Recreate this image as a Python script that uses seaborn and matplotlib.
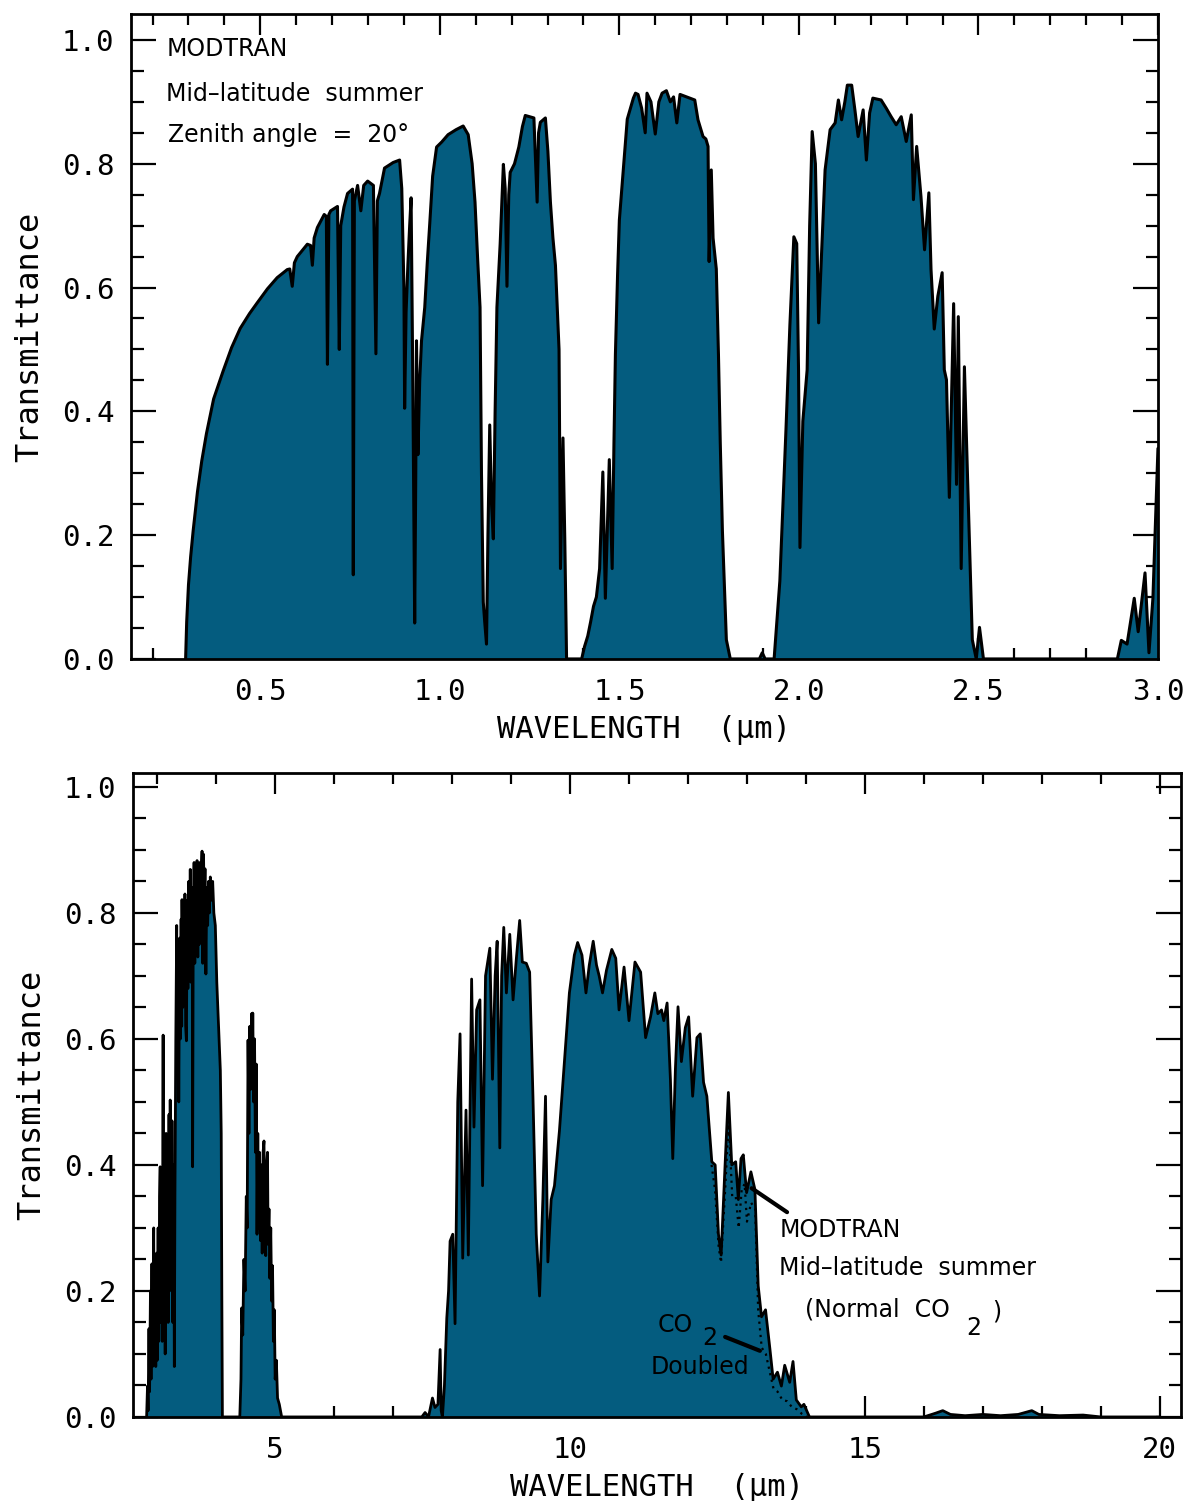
import matplotlib
matplotlib.use("Agg")
import matplotlib.pyplot as plt
import pandas as pd
import seaborn as sns
from matplotlib.ticker import MultipleLocator, FormatStrFormatter

# ---------------- data ----------------
# top panel: 0.2 - 3.0 um
wl_vis = [0.2920, 0.2950, 0.3000, 0.3060, 0.3130, 0.3250, 0.3370, 0.3500, 0.3700, 0.3970,
          0.4200, 0.4440, 0.4700, 0.4910, 0.5200, 0.5470, 0.5750, 0.5820, 0.5890, 0.5950,
          0.6030, 0.6310, 0.6400, 0.6450, 0.6500, 0.6590, 0.6780, 0.6840, 0.6870, 0.6910,
          0.6960, 0.7150, 0.7200, 0.7240, 0.7330, 0.7430, 0.7570, 0.7590, 0.7620, 0.7710,
          0.7800, 0.7880, 0.7990, 0.8150, 0.8220, 0.8260, 0.8320, 0.8460, 0.8700, 0.8880,
          0.8940, 0.9000, 0.9020, 0.9060, 0.9110, 0.9160, 0.9200, 0.9250, 0.9300, 0.9330,
          0.9350, 0.9390, 0.9440, 0.9490, 0.9580, 0.9650, 0.9720, 0.9800, 0.9910, 1.0050,
          1.0230, 1.0450, 1.0650, 1.0790, 1.0900, 1.0980, 1.1050, 1.1120, 1.1160, 1.1210,
          1.1250, 1.1300, 1.1340, 1.1390, 1.1440, 1.1490, 1.1540, 1.1590, 1.1680, 1.1770,
          1.1820, 1.1870, 1.1920, 1.1960, 1.2080, 1.2200, 1.2300, 1.2380, 1.2500, 1.2620,
          1.2710, 1.2750, 1.2800, 1.2940, 1.3010, 1.3080, 1.3150, 1.3220, 1.3320, 1.3360,
          1.3430, 1.3480, 1.3530, 1.3950, 1.4030, 1.4120, 1.4200, 1.4280, 1.4360, 1.4450,
          1.4540, 1.4610, 1.4720, 1.4800, 1.4850, 1.4890, 1.4950, 1.5000, 1.5110, 1.5220,
          1.5390, 1.5450, 1.5520, 1.5620, 1.5720, 1.5770, 1.5880, 1.6000, 1.6100, 1.6190,
          1.6310, 1.6420, 1.6510, 1.6600, 1.6690, 1.6870, 1.7100, 1.7190, 1.7330, 1.7410,
          1.7470, 1.7500, 1.7560, 1.7610, 1.7700, 1.7760, 1.7810, 1.7870, 1.7980, 1.8090,
          1.8900, 1.8980, 1.9060, 1.9310, 1.9470, 1.9640, 1.9750, 1.9860, 1.9940, 1.9990,
          2.0030, 2.0110, 2.0230, 2.0300, 2.0370, 2.0460, 2.0550, 2.0640, 2.0730, 2.0870,
          2.1010, 2.1100, 2.1190, 2.1280, 2.1350, 2.1470, 2.1560, 2.1650, 2.1790, 2.1880,
          2.1970, 2.2060, 2.2290, 2.2430, 2.2570, 2.2710, 2.2850, 2.2990, 2.3130, 2.3190,
          2.3280, 2.3400, 2.3500, 2.3620, 2.3680, 2.3770, 2.3870, 2.3990, 2.4050, 2.4110,
          2.4190, 2.4310, 2.4390, 2.4440, 2.4520, 2.4610, 2.4700, 2.4830, 2.4940, 2.5030,
          2.5140, 2.8870, 2.8980, 2.9140, 2.9340, 2.9450, 2.9640, 2.9750, 2.9860, 3.0000]
tr_vis = [0.000, 0.060, 0.120, 0.165, 0.207, 0.270, 0.320, 0.364, 0.420, 0.466,
          0.503, 0.534, 0.558, 0.575, 0.598, 0.616, 0.629, 0.630, 0.602, 0.640,
          0.650, 0.670, 0.668, 0.636, 0.680, 0.697, 0.718, 0.715, 0.476, 0.718,
          0.724, 0.731, 0.500, 0.700, 0.730, 0.752, 0.759, 0.136, 0.740, 0.765,
          0.724, 0.765, 0.772, 0.765, 0.493, 0.740, 0.752, 0.793, 0.802, 0.806,
          0.760, 0.600, 0.405, 0.560, 0.636, 0.700, 0.745, 0.432, 0.058, 0.300,
          0.514, 0.330, 0.450, 0.514, 0.568, 0.640, 0.704, 0.780, 0.827, 0.835,
          0.847, 0.855, 0.861, 0.847, 0.800, 0.738, 0.650, 0.568, 0.300, 0.092,
          0.060, 0.024, 0.200, 0.378, 0.250, 0.194, 0.400, 0.568, 0.670, 0.799,
          0.760, 0.602, 0.750, 0.786, 0.800, 0.827, 0.860, 0.878, 0.876, 0.874,
          0.738, 0.850, 0.867, 0.874, 0.820, 0.738, 0.680, 0.636, 0.500, 0.146,
          0.357, 0.194, 0.000, 0.000, 0.020, 0.037, 0.060, 0.085, 0.100, 0.146,
          0.302, 0.098, 0.322, 0.146, 0.350, 0.492, 0.620, 0.709, 0.791, 0.872,
          0.906, 0.914, 0.912, 0.890, 0.850, 0.914, 0.900, 0.848, 0.900, 0.914,
          0.918, 0.900, 0.908, 0.866, 0.912, 0.908, 0.903, 0.871, 0.844, 0.840,
          0.828, 0.642, 0.790, 0.680, 0.630, 0.492, 0.350, 0.207, 0.031, 0.000,
          0.000, 0.010, 0.000, 0.000, 0.126, 0.370, 0.540, 0.682, 0.671, 0.467,
          0.180, 0.384, 0.467, 0.700, 0.852, 0.800, 0.543, 0.666, 0.790, 0.855,
          0.866, 0.903, 0.871, 0.900, 0.927, 0.927, 0.887, 0.844, 0.887, 0.806,
          0.882, 0.906, 0.903, 0.890, 0.876, 0.863, 0.876, 0.836, 0.879, 0.742,
          0.828, 0.747, 0.661, 0.753, 0.629, 0.533, 0.586, 0.624, 0.467, 0.451,
          0.261, 0.574, 0.282, 0.553, 0.146, 0.472, 0.288, 0.031, 0.000, 0.051,
          0.000, 0.000, 0.030, 0.024, 0.098, 0.044, 0.139, 0.010, 0.098, 0.340]

# bottom panel: 2.6 - 20 um, normal CO2
wl_ir = [2.820, 2.835, 2.845, 2.860, 2.870, 2.885, 2.895, 2.910, 2.920, 2.940,
         2.950, 2.965, 2.975, 2.990, 3.000, 3.015, 3.025, 3.040, 3.050, 3.060,
         3.075, 3.085, 3.100, 3.110, 3.125, 3.135, 3.150, 3.160, 3.175, 3.185,
         3.200, 3.210, 3.220, 3.235, 3.250, 3.265, 3.280, 3.290, 3.300, 3.315,
         3.330, 3.340, 3.355, 3.365, 3.380, 3.392, 3.405, 3.415, 3.420, 3.432,
         3.445, 3.458, 3.470, 3.482, 3.495, 3.508, 3.520, 3.535, 3.548, 3.560,
         3.572, 3.585, 3.595, 3.600, 3.610, 3.625, 3.637, 3.650, 3.662, 3.675,
         3.688, 3.700, 3.712, 3.725, 3.738, 3.750, 3.760, 3.772, 3.785, 3.798,
         3.810, 3.825, 3.840, 3.855, 3.870, 3.885, 3.900, 3.920, 3.940, 3.960,
         3.985, 4.010, 4.040, 4.070, 4.085, 4.095, 4.105,
         4.400, 4.420, 4.432, 4.450, 4.470, 4.490, 4.510, 4.525, 4.540, 4.555,
         4.570, 4.585, 4.600, 4.612, 4.620, 4.635, 4.650, 4.665, 4.680, 4.692,
         4.705, 4.720, 4.735, 4.750, 4.765, 4.780, 4.795, 4.810, 4.825, 4.840,
         4.855, 4.870, 4.880, 4.895, 4.910, 4.925, 4.940, 4.955, 4.970, 4.985,
         5.000, 5.020, 5.040, 5.070, 5.110,
         7.486, 7.542, 7.600, 7.667, 7.710, 7.760, 7.797, 7.815, 7.836, 7.870,
         7.910, 7.940, 7.966, 8.011, 8.050, 8.096, 8.135, 8.180, 8.236, 8.275,
         8.331, 8.371, 8.416, 8.472, 8.517, 8.567, 8.640, 8.685, 8.730, 8.764,
         8.809, 8.840, 8.876, 8.921, 8.978, 9.034, 9.090, 9.146, 9.191, 9.258,
         9.315, 9.371, 9.427, 9.483, 9.539, 9.584, 9.624, 9.680, 9.736, 9.820,
         9.904, 9.989, 10.073, 10.129, 10.202, 10.270, 10.326, 10.393, 10.449, 10.494,
         10.551, 10.618, 10.708, 10.775, 10.831, 10.916, 11.000, 11.101, 11.197, 11.281,
         11.365, 11.438, 11.489, 11.551, 11.590, 11.646, 11.702, 11.742, 11.787, 11.831,
         11.888, 11.955, 12.011, 12.079, 12.152, 12.208, 12.264, 12.320, 12.404, 12.461,
         12.517, 12.562, 12.629, 12.685, 12.742, 12.809, 12.854, 12.899, 12.938, 12.994,
         13.067, 13.135, 13.191, 13.247, 13.315, 13.388, 13.444, 13.517, 13.584, 13.640,
         13.725, 13.781, 13.837, 13.921, 13.966, 14.060, 16.000, 16.200, 16.320, 16.450,
         16.700, 17.000, 17.300, 17.600, 17.830, 17.950, 18.300, 18.700, 19.000, 20.000]
tr_ir = [0.000, 0.049, 0.010, 0.140, 0.040, 0.200, 0.060, 0.243, 0.080, 0.300,
         0.100, 0.200, 0.080, 0.260, 0.090, 0.300, 0.120, 0.350, 0.397, 0.150,
         0.300, 0.120, 0.606, 0.150, 0.350, 0.100, 0.450, 0.200, 0.420, 0.150,
         0.480, 0.200, 0.503, 0.250, 0.470, 0.150, 0.400, 0.080, 0.350, 0.600,
         0.780, 0.550, 0.720, 0.500, 0.760, 0.600, 0.790, 0.620, 0.821, 0.650,
         0.800, 0.660, 0.830, 0.620, 0.597, 0.820, 0.680, 0.850, 0.700, 0.869,
         0.690, 0.840, 0.720, 0.397, 0.760, 0.880, 0.720, 0.860, 0.740, 0.883,
         0.730, 0.870, 0.750, 0.880, 0.760, 0.870, 0.898, 0.720, 0.893, 0.800,
         0.870, 0.703, 0.840, 0.780, 0.850, 0.800, 0.857, 0.820, 0.850, 0.800,
         0.780, 0.690, 0.620, 0.550, 0.450, 0.200, 0.000,
         0.000, 0.060, 0.173, 0.130, 0.250, 0.200, 0.350, 0.300, 0.598, 0.450,
         0.620, 0.520, 0.640, 0.560, 0.641, 0.500, 0.600, 0.420, 0.560, 0.290,
         0.450, 0.300, 0.420, 0.280, 0.400, 0.260, 0.420, 0.438, 0.300, 0.256,
         0.400, 0.420, 0.274, 0.330, 0.220, 0.300, 0.184, 0.240, 0.120, 0.170,
         0.060, 0.090, 0.030, 0.020, 0.000,
         0.000, 0.007, 0.000, 0.030, 0.015, 0.020, 0.107, 0.010, 0.000, 0.050,
         0.157, 0.200, 0.279, 0.290, 0.148, 0.500, 0.608, 0.252, 0.487, 0.257,
         0.695, 0.460, 0.646, 0.662, 0.367, 0.700, 0.744, 0.536, 0.700, 0.755,
         0.427, 0.700, 0.777, 0.673, 0.766, 0.662, 0.728, 0.788, 0.722, 0.720,
         0.706, 0.509, 0.290, 0.192, 0.345, 0.509, 0.246, 0.345, 0.367, 0.454,
         0.564, 0.673, 0.733, 0.753, 0.733, 0.673, 0.717, 0.755, 0.717, 0.700,
         0.673, 0.709, 0.742, 0.728, 0.646, 0.714, 0.629, 0.722, 0.706, 0.602,
         0.635, 0.673, 0.640, 0.646, 0.629, 0.657, 0.536, 0.410, 0.553, 0.651,
         0.564, 0.618, 0.635, 0.509, 0.602, 0.608, 0.531, 0.509, 0.405, 0.400,
         0.290, 0.257, 0.400, 0.515, 0.400, 0.405, 0.345, 0.410, 0.416, 0.356,
         0.389, 0.361, 0.208, 0.159, 0.170, 0.109, 0.060, 0.071, 0.049, 0.082,
         0.055, 0.088, 0.027, 0.016, 0.020, 0.000, 0.000, 0.006, 0.010, 0.004,
         0.002, 0.004, 0.002, 0.004, 0.010, 0.004, 0.002, 0.003, 0.000, 0.000]

# bottom panel: doubled CO2 (dotted), where it departs from the normal curve
wl_x2 = [12.40, 12.46, 12.52, 12.56, 12.63, 12.69, 12.75, 12.81, 12.86, 12.91,
         12.96, 13.00, 13.07, 13.14, 13.19, 13.25, 13.32, 13.39, 13.45, 13.52,
         13.60, 13.68, 13.76, 13.85, 13.93, 14.02]
tr_x2 = [0.400, 0.360, 0.270, 0.245, 0.360, 0.470, 0.350, 0.350, 0.300, 0.360,
         0.370, 0.310, 0.340, 0.330, 0.170, 0.110, 0.100, 0.070, 0.045, 0.040,
         0.027, 0.025, 0.016, 0.012, 0.005, 0.000]

FILL = '#045c7f'

sns.set_style('ticks')
plt.rcParams['font.family'] = ['DejaVu Sans Mono']
plt.rcParams['axes.labelcolor'] = 'black'
plt.rcParams['text.color'] = 'black'


def settings_plot(ax, xmaj, xmin):
    ax.xaxis.set_major_locator(MultipleLocator(xmaj))
    ax.xaxis.set_minor_locator(MultipleLocator(xmin))
    ax.yaxis.set_major_locator(MultipleLocator(0.2))
    ax.yaxis.set_minor_locator(MultipleLocator(0.05))
    ax.yaxis.set_major_formatter(FormatStrFormatter('%.1f'))
    ax.tick_params(which='both', direction='in', top=True, right=True,
                   width=1.6, colors='black', labelsize=21)
    ax.tick_params(axis='x', which='major', length=15, pad=14)
    ax.tick_params(axis='x', which='minor', length=8)
    ax.tick_params(axis='y', which='major', length=18, pad=12)
    ax.tick_params(axis='y', which='minor', length=9)
    for s in ax.spines.values():
        s.set_visible(True)
        s.set_linewidth(2.0)
        s.set_color('black')
    ax.set_ylabel('Transmittance', fontsize=23, labelpad=12, color='black')
    ax.set_xlabel('WAVELENGTH  (\u03bcm)', fontsize=22, labelpad=6, color='black')
    return ax


fig = plt.figure(figsize=(11.88, 15.01), dpi=100, facecolor='white')

# ---------------- top panel ----------------
ax1 = fig.add_axes([0.1103, 0.5610, 0.8644, 0.4297])
df_vis = pd.DataFrame({'wl': wl_vis, 'tr': tr_vis})
ax1.fill_between(df_vis['wl'], 0, df_vis['tr'], color=FILL, lw=0)
sns.lineplot(data=df_vis, x='wl', y='tr', ax=ax1, color='black', lw=2.2,
             sort=False, estimator=None)
ax1.set_xlim(0.14, 3.0)
ax1.set_ylim(0, 1.042)
settings_plot(ax1, 0.5, 0.1)
ax1.xaxis.set_major_formatter(FormatStrFormatter('%.1f'))

txt = dict(family=['DejaVu Sans'], fontsize=17, color='black')
ax1.text(0.238, 0.985, 'MODTRAN', va='center', ha='left', **txt)
ax1.text(0.238, 0.913, 'Mid\u2013latitude  summer', va='center', ha='left', **txt)
ax1.text(0.244, 0.846, 'Zenith angle  =  20\u00b0', va='center', ha='left', **txt)

# ---------------- bottom panel ----------------
ax2 = fig.add_axes([0.1120, 0.0560, 0.8821, 0.4290])
df_ir = pd.DataFrame({'wl': wl_ir, 'tr': tr_ir})
df_x2 = pd.DataFrame({'wl': wl_x2, 'tr': tr_x2})
ax2.fill_between(df_ir['wl'], 0, df_ir['tr'], color=FILL, lw=0)
sns.lineplot(data=df_ir, x='wl', y='tr', ax=ax2, color='black', lw=2.0,
             sort=False, estimator=None)
sns.lineplot(data=df_x2, x='wl', y='tr', ax=ax2, color='black', lw=1.6,
             linestyle=(0, (1, 2)), sort=False, estimator=None)
ax2.set_xlim(2.59, 20.36)
ax2.set_ylim(0, 1.022)
settings_plot(ax2, 5, 1)
ax2.xaxis.set_major_formatter(FormatStrFormatter('%d'))

txt2 = dict(family=['DejaVu Sans'], fontsize=17, color='black')
ax2.text(13.56, 0.297, 'MODTRAN', va='center', ha='left', **txt2)
ax2.text(13.54, 0.237, 'Mid\u2013latitude  summer', va='center', ha='left', **txt2)
ax2.text(13.98, 0.171, '(Normal  CO', va='center', ha='left', **txt2)
ax2.text(16.72, 0.141, '2', va='center', ha='left', **txt2)
ax2.text(17.15, 0.168, ')', va='center', ha='left', **txt2)
ax2.plot([13.08, 13.68], [0.363, 0.325], color='black', lw=3.0)

ax2.text(11.49, 0.146, 'CO', va='center', ha='left', **txt2)
ax2.text(12.25, 0.125, '2', va='center', ha='left', **txt2)
ax2.text(12.20, 0.079, 'Doubled', va='center', ha='center', **txt2)
ax2.plot([12.63, 13.22], [0.127, 0.105], color='black', lw=3.0)

fig.savefig('out.png', dpi=100, facecolor='white')
